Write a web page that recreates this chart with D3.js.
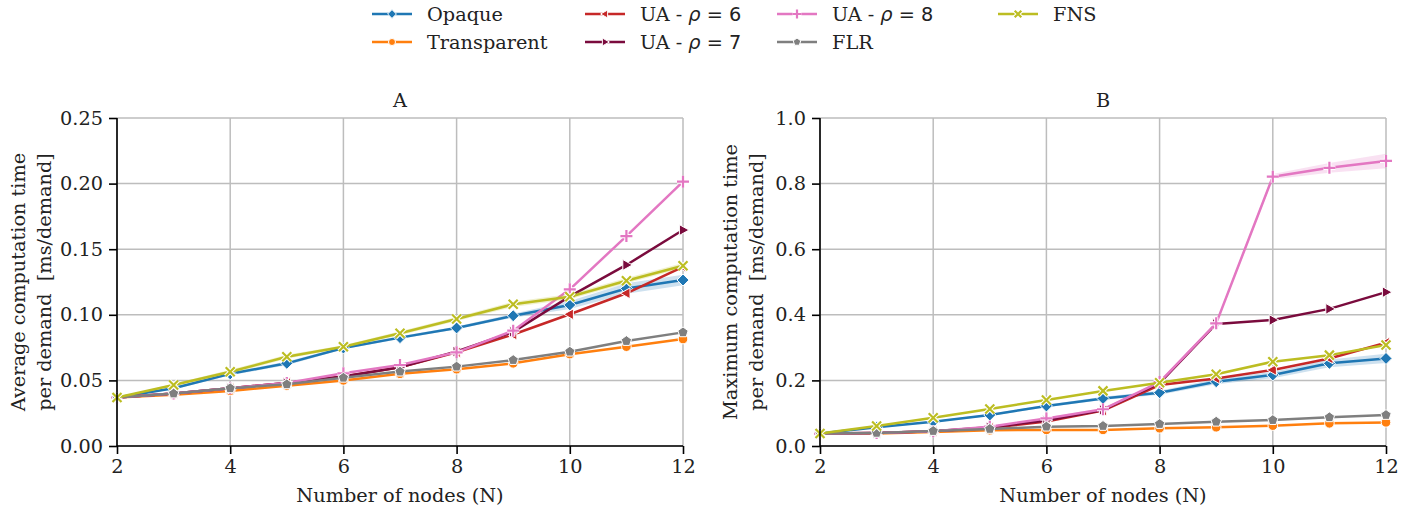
<!DOCTYPE html>
<html>
<head>
<meta charset="utf-8">
<script src="https://cdn.jsdelivr.net/npm/d3@7"></script>
<style>
  body { margin: 0; background: #fff; }
  text { font-family: "DejaVu Serif", serif; fill: #222; white-space: pre; }
</style>
</head>
<body>
<svg id="chart" width="1416" height="511"></svg>
<script>
// Data
var nodes = [2, 3, 4, 5, 6, 7, 8, 9, 10, 11, 12];

// Panel A: average computation time per demand [ms/demand]
var opaqueAvg      = [0.037, 0.044, 0.055, 0.063, 0.0747, 0.0826, 0.090, 0.0993, 0.1075, 0.120, 0.1265];
var transparentAvg = [0.037, 0.039, 0.042, 0.046, 0.050, 0.055, 0.0585, 0.063, 0.070, 0.0757, 0.0815];
var ua6Avg         = [0.037, 0.040, 0.044, 0.048, 0.053, 0.060, 0.0714, 0.085, 0.1004, 0.1164, 0.1365];
var ua7Avg         = [0.037, 0.040, 0.044, 0.048, 0.053, 0.060, 0.072, 0.087, 0.114, 0.138, 0.1646];
var ua8Avg         = [0.037, 0.040, 0.044, 0.048, 0.0554, 0.0617, 0.0714, 0.0879, 0.1194, 0.160, 0.2015];
var flrAvg         = [0.037, 0.040, 0.044, 0.047, 0.052, 0.0567, 0.0605, 0.0655, 0.0719, 0.080, 0.0866];
var fnsAvg         = [0.037, 0.0465, 0.0566, 0.068, 0.0757, 0.0859, 0.0968, 0.108, 0.1138, 0.126, 0.1374];

// Panel B: maximum computation time per demand [ms/demand]
var opaqueMax      = [0.038, 0.057, 0.074, 0.0945, 0.122, 0.145, 0.1626, 0.196, 0.2165, 0.252, 0.267];
var transparentMax = [0.037, 0.038, 0.043, 0.048, 0.049, 0.049, 0.054, 0.057, 0.062, 0.069, 0.072];
var ua6Max         = [0.038, 0.040, 0.045, 0.055, 0.075, 0.108, 0.186, 0.206, 0.232, 0.267, 0.315];
var ua7Max         = [0.038, 0.040, 0.045, 0.057, 0.078, 0.110, 0.192, 0.372, 0.384, 0.418, 0.469];
var ua8Max         = [0.038, 0.040, 0.045, 0.059, 0.084, 0.112, 0.195, 0.374, 0.821, 0.848, 0.869];
var flrMax         = [0.038, 0.040, 0.0457, 0.052, 0.059, 0.061, 0.067, 0.074, 0.079, 0.0875, 0.0945];
var fnsMax         = [0.038, 0.061, 0.0864, 0.113, 0.140, 0.168, 0.193, 0.2185, 0.257, 0.277, 0.308];

// confidence band half widths where they are visible
var opaqueAvgCi = [0, 0.001, 0.001, 0.0015, 0.001, 0.001, 0.001, 0.0015, 0.003, 0.004, 0.004];
var fnsAvgCi    = [0, 0.001, 0.0015, 0.0015, 0.001, 0.0015, 0.0015, 0.002, 0.002, 0.002, 0.002];
var ua8MaxCi    = [0, 0, 0, 0, 0.003, 0.004, 0.004, 0.006, 0.008, 0.015, 0.022];
var opaqueMaxCi = [0, 0.002, 0.002, 0.003, 0.004, 0.005, 0.006, 0.008, 0.010, 0.012, 0.014];

var seriesNames = ["Opaque", "Transparent", "UA6", "UA7", "UA8", "FLR", "FNS"];
var colors = ["#1f77b4", "#ff7f0e", "#c62828", "#7a0b3d", "#e377c2", "#7f7f7f", "#bcbd22"];
var markers = ["diamond", "circle", "triLeft", "triRight", "plus", "pentagon", "cross"];

var xTicks = [2, 4, 6, 8, 10, 12];
var yTicksA = [0, 0.05, 0.10, 0.15, 0.20, 0.25];
var yTicksB = [0, 0.2, 0.4, 0.6, 0.8, 1.0];

var FS = 19.3;
var svg = d3.select("#chart");

function markerPath(type, r) {
  var p = d3.path();
  if (type === "diamond") {
    p.moveTo(0, -r); p.lineTo(r, 0); p.lineTo(0, r); p.lineTo(-r, 0); p.closePath();
  } else if (type === "circle") {
    p.arc(0, 0, r * 0.8, 0, 2 * Math.PI);
  } else if (type === "triLeft") {
    p.moveTo(-r, 0); p.lineTo(r * 0.6, -r * 0.9); p.lineTo(r * 0.6, r * 0.9); p.closePath();
  } else if (type === "triRight") {
    p.moveTo(r, 0); p.lineTo(-r * 0.6, -r * 0.9); p.lineTo(-r * 0.6, r * 0.9); p.closePath();
  } else if (type === "pentagon") {
    for (var k = 0; k < 5; k++) {
      var a = -Math.PI / 2 + k * 2 * Math.PI / 5;
      var px = Math.cos(a) * r * 0.9, py = Math.sin(a) * r * 0.9;
      if (k === 0) p.moveTo(px, py); else p.lineTo(px, py);
    }
    p.closePath();
  } else if (type === "plus") {
    p.moveTo(-r, 0); p.lineTo(r, 0); p.moveTo(0, -r); p.lineTo(0, r);
  } else if (type === "cross") {
    var c = r * 0.75;
    p.moveTo(-c, -c); p.lineTo(c, c); p.moveTo(-c, c); p.lineTo(c, -c);
  }
  return p.toString();
}

function drawMarker(g, type, color, x, y, r) {
  var d = markerPath(type, r);
  if (type === "plus" || type === "cross") {
    g.append("path").attr("d", d).attr("transform", "translate(" + x + "," + y + ")")
      .attr("fill", "none").attr("stroke", "#fff").attr("stroke-width", 4.2);
    g.append("path").attr("d", d).attr("transform", "translate(" + x + "," + y + ")")
      .attr("fill", "none").attr("stroke", color).attr("stroke-width", 2.2);
  } else {
    g.append("path").attr("d", d).attr("transform", "translate(" + x + "," + y + ")")
      .attr("fill", color).attr("stroke", "#fff").attr("stroke-width", 1);
  }
}

function drawPanel(opts) {
  var x = d3.scaleLinear().domain([2, 12]).range([opts.left, opts.right]);
  var y = d3.scaleLinear().domain(opts.yDomain).range([446, 118]);
  var g = svg.append("g");

  // grid
  g.append("g").selectAll("line").data(xTicks).enter().append("line")
    .attr("x1", function(d) { return x(d); }).attr("x2", function(d) { return x(d); })
    .attr("y1", y.range()[0]).attr("y2", y.range()[1])
    .attr("stroke", "#bdbdbd").attr("stroke-width", 1.5);
  g.append("g").selectAll("line").data(opts.yTicks).enter().append("line")
    .attr("y1", function(d) { return y(d); }).attr("y2", function(d) { return y(d); })
    .attr("x1", opts.left).attr("x2", opts.right)
    .attr("stroke", "#bdbdbd").attr("stroke-width", 1.5);

  var line = d3.line().x(function(d, i) { return x(nodes[i]); }).y(function(d) { return y(d); });
  var area = d3.area()
    .x(function(d, i) { return x(nodes[i]); })
    .y0(function(d) { return y(d.v - d.c); })
    .y1(function(d) { return y(d.v + d.c); });

  opts.series.forEach(function(vals, s) {
    var ci = opts.ci[s];
    if (ci) {
      g.append("path")
        .attr("d", area(vals.map(function(v, i) { return {v: v, c: ci[i]}; })))
        .attr("fill", colors[s]).attr("fill-opacity", 0.22).attr("stroke", "none");
    }
    g.append("path").attr("d", line(vals))
      .attr("fill", "none").attr("stroke", colors[s]).attr("stroke-width", 2.5)
      .attr("stroke-linejoin", "round");
    var mg = g.append("g");
    vals.forEach(function(v, i) {
      drawMarker(mg, markers[s], colors[s], x(nodes[i]), y(v), 6);
    });
  });

  // axes
  var xAxis = d3.axisBottom(x).tickValues(xTicks).tickSize(8).tickPadding(5);
  var gx = g.append("g").attr("transform", "translate(0,446)").call(xAxis);
  var yAxis = d3.axisLeft(y).tickValues(opts.yTicks).tickSize(8).tickPadding(6)
    .tickFormat(d3.format(opts.fmt));
  var gy = g.append("g").attr("transform", "translate(" + opts.left + ",0)").call(yAxis);
  [gx, gy].forEach(function(a) {
    a.select(".domain").attr("stroke", "#000").attr("stroke-width", 1.6);
    a.selectAll(".tick line").attr("stroke", "#000").attr("stroke-width", 1.6);
    a.selectAll(".tick text").attr("font-family", "DejaVu Serif").attr("font-size", FS).attr("fill", "#222");
  });
  gx.select(".domain").attr("d", "M" + opts.left + ",0H" + opts.right);
  gy.select(".domain").attr("d", "M0,446V118");

  // title and labels
  g.append("text").attr("x", (opts.left + opts.right) / 2).attr("y", 107)
    .attr("text-anchor", "middle").attr("font-size", FS).text(opts.title);
  g.append("text").attr("x", (opts.left + opts.right) / 2).attr("y", 502)
    .attr("text-anchor", "middle").attr("font-size", FS).text("Number of nodes (N)");
  var yl = g.append("text").attr("transform", "translate(" + opts.ylabelX + ",282) rotate(-90)")
    .attr("text-anchor", "middle").attr("font-size", FS);
  yl.append("tspan").attr("x", 0).attr("dy", 0).text(opts.ylabel[0]);
  yl.append("tspan").attr("x", 0).attr("dy", 26).text(opts.ylabel[1]);
}

drawPanel({
  left: 117, right: 683, yDomain: [0, 0.25], yTicks: yTicksA, fmt: ".2f", title: "A",
  ylabelX: 25, ylabel: ["Average computation time", "per demand  [ms/demand]"],
  series: [opaqueAvg, transparentAvg, ua6Avg, ua7Avg, ua8Avg, flrAvg, fnsAvg],
  ci: [opaqueAvgCi, null, null, null, null, null, fnsAvgCi]
});
drawPanel({
  left: 820, right: 1386, yDomain: [0, 1.0], yTicks: yTicksB, fmt: ".1f", title: "B",
  ylabelX: 737, ylabel: ["Maximum computation time", "per demand  [ms/demand]"],
  series: [opaqueMax, transparentMax, ua6Max, ua7Max, ua8Max, flrMax, fnsMax],
  ci: [opaqueMaxCi, null, null, null, ua8MaxCi, null, null]
});

// legend
var legendCols = [372, 585, 777, 998];
var legendRows = [14, 42];
var legendLabels = [
  ["Opaque"], ["Transparent"],
  ["UA - ", "ρ", " = 6"], ["UA - ", "ρ", " = 7"],
  ["UA - ", "ρ", " = 8"], ["FLR"], ["FNS"]
];
var lg = svg.append("g");
legendLabels.forEach(function(lab, s) {
  var cx = legendCols[Math.floor(s / 2)], cy = legendRows[s % 2];
  lg.append("line").attr("x1", cx).attr("x2", cx + 40).attr("y1", cy).attr("y2", cy)
    .attr("stroke", colors[s]).attr("stroke-width", 2.5);
  drawMarker(lg, markers[s], colors[s], cx + 20, cy, 4.4);
  var t = lg.append("text").attr("x", cx + 55).attr("y", cy).attr("dy", "0.35em").attr("font-size", FS);
  t.append("tspan").text(lab[0]);
  if (lab.length > 1) {
    t.append("tspan").attr("font-family", "DejaVu Sans").attr("font-style", "italic").text(lab[1]);
    t.append("tspan").attr("font-family", "DejaVu Sans").text(lab[2]);
  }
});
</script>
</body>
</html>
